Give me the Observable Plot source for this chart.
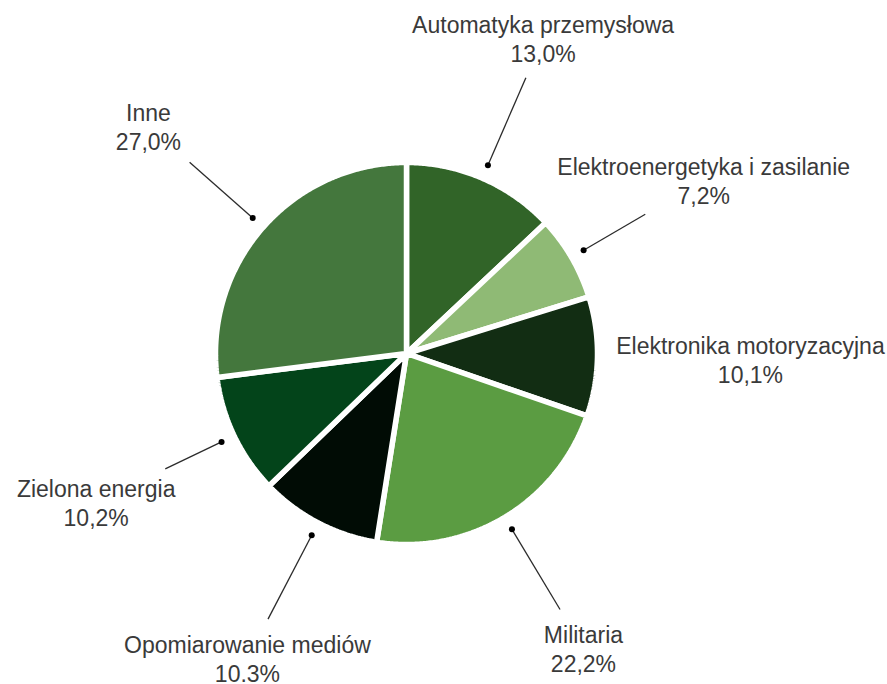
<!DOCTYPE html>
<html>
<head>
<meta charset="utf-8">
<script src="https://cdn.jsdelivr.net/npm/d3@7"></script>
<script src="https://cdn.jsdelivr.net/npm/@observablehq/plot@0.6"></script>
<style>
  html, body { margin: 0; padding: 0; background: #ffffff; }
  #chart svg { display: block; }
</style>
</head>
<body>
<div id="chart"></div>
<script>
// ---- data ----
const names = [
  "Automatyka przemysłowa",
  "Elektroenergetyka i zasilanie",
  "Elektronika motoryzacyjna",
  "Militaria",
  "Opomiarowanie mediów",
  "Zielona energia",
  "Inne"
];
const values = [13.0, 7.2, 10.1, 22.2, 10.3, 10.2, 27.0];
const valueLabels = ["13,0%", "7,2%", "10,1%", "22,2%", "10.3%", "10,2%", "27,0%"];
const colors = ["#316428", "#8fba75", "#122d13", "#5b9c42", "#010c05", "#03441a", "#44773d"];
const noLeader = ["Elektronika motoryzacyjna"];

// ---- layout ----
const W = 887, H = 684;
const cx = 406, cy = 353;      // pie centre in pixels
const R = 191;                 // pie radius (before white separators)
const dotR = 205, textR = 344, gap = 14, halfH = 27;
const fontSize = 23;
const font = "'Liberation Sans', Arial, Helvetica, sans-serif";

const total = d3.sum(values);
let acc = 0;
const slices = names.map((name, i) => {
  const a0 = acc / total * 2 * Math.PI;
  acc += values[i];
  const a1 = acc / total * 2 * Math.PI;
  return {name, value: values[i], label: valueLabels[i], a0, a1, mid: (a0 + a1) / 2};
});

// polygon points for each slice (derived from the values)
const poly = [];
for (const s of slices) {
  poly.push({name: s.name, x: 0, y: 0});
  const n = Math.max(2, Math.ceil((s.a1 - s.a0) / (Math.PI / 360)));
  for (let k = 0; k <= n; k++) {
    const a = s.a0 + (s.a1 - s.a0) * k / n;
    poly.push({name: s.name, x: R * Math.sin(a), y: -R * Math.cos(a)});
  }
  poly.push({name: s.name, x: 0, y: 0});
}

// text measurement for leader line ends
const ctx = document.createElement("canvas").getContext("2d");
ctx.font = `${fontSize}px ${font}`;

const labels = slices.map(s => {
  const ux = Math.sin(s.mid), uy = -Math.cos(s.mid);
  const hw = Math.max(ctx.measureText(s.name).width, ctx.measureText(s.label).width) / 2;
  const t = Math.min(hw / Math.max(Math.abs(ux), 1e-6), halfH / Math.max(Math.abs(uy), 1e-6));
  const rEnd = textR - t - gap;
  return {
    ...s,
    tx: textR * ux, ty: textR * uy,
    x1: dotR * ux, y1: dotR * uy,
    x2: rEnd * ux, y2: rEnd * uy,
    leader: !noLeader.includes(s.name)
  };
});
const leaders = labels.filter(d => d.leader);

const chart = Plot.plot({
  width: W,
  height: H,
  margin: 0,
  x: {domain: [-cx, W - cx], range: [0, W], axis: null},
  y: {domain: [-cy, H - cy], range: [0, H], axis: null},
  color: {domain: names, range: colors},
  style: {fontFamily: font, background: "#ffffff"},
  marks: [
    Plot.line(poly, {
      x: "x", y: "y", z: "name",
      fill: "name",
      stroke: "#ffffff",
      strokeWidth: 5.5,
      strokeLinejoin: "miter",
      strokeOpacity: 1
    }),
    Plot.link(leaders, {
      x1: "x1", y1: "y1", x2: "x2", y2: "y2",
      stroke: "#2b2b2b", strokeWidth: 1.3
    }),
    Plot.dot(leaders, {x: "x1", y: "y1", r: 3, fill: "#000000", stroke: "none"}),
    Plot.text(labels, {
      x: "tx", y: "ty",
      text: d => d.name + "\n" + d.label,
      fontSize: fontSize,
      lineHeight: 1.27,
      fill: "#3a3a3a",
      textAnchor: "middle",
      lineAnchor: "middle"
    })
  ]
});

document.getElementById("chart").appendChild(chart);
</script>
</body>
</html>
